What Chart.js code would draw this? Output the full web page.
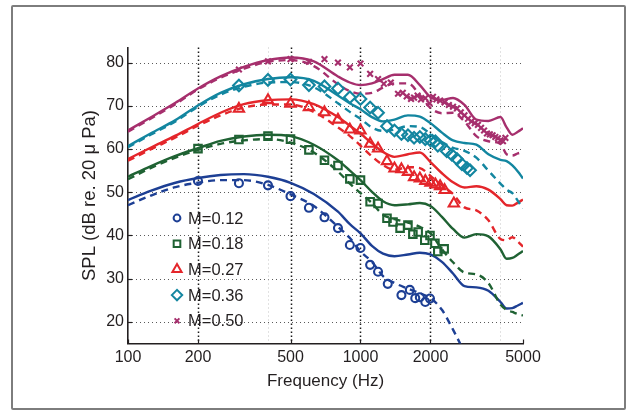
<!DOCTYPE html>
<html>
<head>
<meta charset="utf-8">
<script src="https://cdn.jsdelivr.net/npm/chart.js@4.4.1/dist/chart.umd.min.js"></script>
<style>
  html, body { margin: 0; padding: 0; background: #fff; }
  #wrap { position: relative; width: 630px; height: 415px; }
  #frame { position: absolute; left: 11px; top: 5px; width: 615px; height: 405px; border: 2px solid #7d7d7d; border-radius: 2px; box-sizing: border-box; }
  canvas { position: absolute; left: 0; top: 0; }
</style>
</head>
<body>
<div id="wrap">
  <div id="frame"></div>
  <canvas id="chart" width="630" height="415"></canvas>
</div>
<script>
// axis ticks
const xTicks = [100, 200, 500, 1000, 2000, 5000];
const xMinorGrid = [400, 4000];
const seriesNames = ["M=0.12", "M=0.18", "M=0.27", "M=0.36", "M=0.50"];

// frequencies the model curves are read at
const curveFreq = [100, 125, 160, 200, 250, 315, 400, 500, 630, 800, 900, 1000, 1120, 1250, 1400,
  1600, 1800, 2000, 2240, 2500, 2800, 3150, 3550, 4000, 4250, 4500, 4750, 5000];

// solid curves
const blueSolid = [48.2, 50.3, 52.2, 53.3, 54.0, 54.2, 53.6, 52.2, 49.6, 45.5, 42.6, 40.5, 37.6, 35.8, 35.2,
  35.6, 36.0, 35.6, 33.9, 31.2, 28.3, 28.0, 27.2, 24.6, 23.1, 23.2, 23.8, 24.4];
const greenSolid = [53.6, 56.0, 58.4, 60.2, 61.9, 62.9, 63.3, 63.0, 61.0, 57.4, 55.0, 52.8, 50.1, 47.9, 47.0,
  47.2, 47.5, 46.8, 44.3, 41.5, 39.5, 40.3, 39.8, 36.8, 34.6, 34.8, 35.6, 36.4];
const redSolid = [57.7, 60.3, 63.1, 65.8, 68.4, 70.4, 71.3, 71.5, 70.4, 67.4, 65.4, 63.6, 61.3, 59.3, 58.2,
  58.8, 59.2, 57.0, 54.4, 52.3, 51.1, 51.4, 50.6, 48.4, 47.0, 46.9, 47.6, 48.3];
const tealSolid = [60.7, 63.6, 66.7, 70.1, 73.0, 75.0, 76.2, 76.6, 75.8, 72.4, 70.6, 69.2, 67.4, 66.4, 66.8,
  67.8, 67.5, 66.0, 63.8, 62.0, 61.4, 61.0, 58.8, 57.5, 57.2, 56.2, 54.8, 53.2];
const magentaSolid = [64.3, 67.3, 70.7, 74.0, 76.8, 79.0, 80.6, 81.2, 80.3, 76.8, 75.4, 74.8, 75.2, 76.2, 77.2,
  77.2, 74.8, 72.0, 71.4, 71.8, 70.2, 66.8, 66.5, 67.4, 65.0, 63.3, 64.0, 64.8];

// dashed curves
const blueDashed = [47.0, 49.2, 51.2, 52.2, 52.8, 52.8, 51.7, 49.5, 46.8, 42.0, 39.4, 36.3, 33.9, 30.6, 29.0,
  27.7, 26.6, 25.5, 22.8, 18.2, 13.0];
const greenDashed = [53.0, 55.6, 58.0, 59.8, 61.2, 62.0, 62.3, 61.5, 59.2, 54.8, 52.0, 49.8, 47.5, 44.8, 43.8,
  43.0, 42.0, 40.5, 36.8, 33.8, 31.4, 31.0, 29.0, 24.0, 22.8, 22.3, 21.8, 21.5];
const redDashed = [57.3, 59.9, 62.7, 65.4, 67.8, 69.6, 70.3, 70.3, 68.6, 65.0, 63.0, 60.8, 58.3, 56.3, 55.2,
  55.8, 55.6, 53.8, 51.6, 49.6, 46.5, 45.8, 43.5, 39.2, 38.9, 39.6, 38.6, 37.4];
const tealDashed = [60.4, 63.3, 66.4, 69.8, 72.6, 74.4, 75.4, 75.5, 74.3, 70.6, 68.6, 67.0, 65.0, 64.2, 64.5,
  65.3, 65.1, 63.5, 61.6, 60.3, 59.6, 58.0, 55.0, 52.0, 50.6, 49.8, 48.0, 46.3];
const magentaDashed = [64.0, 67.0, 70.4, 73.8, 76.5, 78.6, 80.2, 80.6, 79.2, 75.0, 73.4, 72.8, 73.0, 74.2, 75.2,
  75.2, 72.5, 69.5, 68.3, 68.4, 66.4, 63.0, 61.8, 61.2, 58.8, 58.5, 59.0, 59.3];

// measured points
const blueMarkFreq = [200, 300, 400, 500, 600, 700, 800, 900, 1000, 1100, 1190, 1310, 1500, 1630, 1720, 1800, 1900, 1990];
const blueMarks = [52.6, 52.1, 51.6, 49.1, 46.4, 44.2, 41.7, 37.8, 37.1, 33.2, 31.6, 28.8, 26.2, 27.4, 25.5, 25.7, 24.6, 25.4];
const greenMarkFreq = [200, 300, 400, 500, 600, 700, 800, 900, 1000, 1100, 1190, 1300, 1380, 1480, 1600, 1680, 1770,
  1890, 1990, 2090, 2150, 2290];
const greenMarks = [60.1, 62.2, 63.0, 62.3, 59.8, 57.4, 56.2, 53.1, 52.8, 47.8, 47.4, 44.0, 43.1, 41.7, 42.4, 40.3, 40.8,
  38.9, 40.0, 38.2, 36.3, 36.9];
const redMarkFreq = [300, 400, 500, 600, 700, 800, 900, 1000, 1100, 1190, 1300, 1400, 1500, 1600, 1700, 1800, 1900,
  2000, 2100, 2200, 2300, 2520];
const redMarks = [69.3, 71.3, 70.5, 69.7, 68.5, 66.8, 64.5, 64.3, 61.2, 60.1, 57.2, 55.5, 55.3, 54.7, 53.5, 53.2, 52.6,
  52.2, 51.8, 51.4, 50.5, 47.4];
const tealMarkFreq = [300, 400, 500, 600, 700, 800, 900, 1000, 1100, 1190, 1300, 1400, 1500, 1600, 1700, 1800, 1900,
  2000, 2100, 2150, 2350, 2470, 2600, 2730, 2870, 2960];
const tealMarks = [74.7, 76.0, 76.1, 74.8, 74.5, 74.0, 72.0, 71.6, 69.6, 68.4, 65.3, 64.3, 63.5, 63.2, 62.6, 62.8, 62.3,
  62.0, 61.8, 60.8, 59.5, 58.7, 57.7, 56.5, 55.6, 55.1];
const magentaMarkFreq = [300, 400, 500, 600, 700, 800, 900, 1000, 1100, 1190, 1260, 1350, 1450, 1520, 1580, 1650, 1700,
  1760, 1820, 1900, 1980, 2050, 2120, 2200, 2300, 2400, 2500, 2600, 2700, 2800, 2900, 3000, 3100, 3200, 3300, 3400,
  3500, 3600, 3700, 3800, 3900, 4000, 4100, 4200];
const magentaMarks = [78.4, 80.3, 80.8, 80.2, 80.8, 80.0, 78.9, 79.8, 77.4, 76.2, 75.1, 75.4, 72.8, 73.0, 72.2, 71.6, 71.9,
  72.4, 71.5, 71.8, 70.6, 72.1, 71.5, 71.2, 70.8, 70.2, 69.8, 69.4, 68.5, 67.8, 67.0, 66.4, 66.0, 65.6, 64.9, 64.3,
  63.6, 63.4, 63.2, 62.8, 62.5, 62.0, 61.8, 62.6];

const colors = ["#1d3f94", "#1f6233", "#e4262b", "#1386a0", "#a62f6d"];
const markerStyles = ["circle", "rect", "triangle", "rectRot", "crossRot"];
const markerSizes = [4.0, 5.3, 5.9, 5.8, 4.0];
const textColor = "#231f20";
const FONT = "'Liberation Sans', Arial, Helvetica, sans-serif";

const solids = [blueSolid, greenSolid, redSolid, tealSolid, magentaSolid];
const dashes = [blueDashed, greenDashed, redDashed, tealDashed, magentaDashed];
const markFreqs = [blueMarkFreq, greenMarkFreq, redMarkFreq, tealMarkFreq, magentaMarkFreq];
const marks = [blueMarks, greenMarks, redMarks, tealMarks, magentaMarks];

const toPoints = (freqs, vals) => vals.map((v, i) => ({ x: freqs[i], y: v }));

const datasets = [];
seriesNames.forEach((name, i) => {
  datasets.push({
    label: name,
    data: toPoints(markFreqs[i], marks[i]),
    showLine: false,
    pointStyle: markerStyles[i],
    pointRadius: markerSizes[i],
    pointBorderWidth: 2.1,
    pointBorderColor: colors[i],
    pointBackgroundColor: "rgba(0,0,0,0)",
    order: 0,
  });
  datasets.push({
    label: name + " model",
    data: toPoints(curveFreq, solids[i]),
    borderColor: colors[i],
    borderWidth: 2.4,
    pointRadius: 0,
    cubicInterpolationMode: "monotone",
    order: 2,
  });
  datasets.push({
    label: name + " model 2",
    data: toPoints(curveFreq, dashes[i]),
    borderColor: colors[i],
    borderWidth: 2.4,
    borderDash: [7, 5],
    pointRadius: 0,
    cubicInterpolationMode: "monotone",
    order: 1,
  });
});

// dotted grid and small inward ticks, drawn from the scales
const gridPlugin = {
  id: "dottedGrid",
  beforeDatasetsDraw(chart) {
    const { ctx, chartArea: a, scales: { x, y } } = chart;
    ctx.save();
    ctx.lineWidth = 1;
    ctx.strokeStyle = "#5a5a5a";
    ctx.setLineDash([1, 3]);
    y.ticks.forEach((t) => {
      const py = Math.round(y.getPixelForValue(t.value)) + 0.5;
      ctx.beginPath(); ctx.moveTo(a.left, py); ctx.lineTo(a.right, py); ctx.stroke();
    });
    ctx.strokeStyle = "#c4c4c4";
    xMinorGrid.forEach((v) => {
      const px = Math.round(x.getPixelForValue(v)) + 0.5;
      ctx.beginPath(); ctx.moveTo(px, a.top); ctx.lineTo(px, a.bottom); ctx.stroke();
    });
    ctx.strokeStyle = "#1a1a1a";
    ctx.lineWidth = 1.5;
    ctx.setLineDash([1.5, 2.5]);
    xTicks.slice(1, -1).forEach((v) => {
      const px = Math.round(x.getPixelForValue(v)) + 0.5;
      ctx.beginPath(); ctx.moveTo(px, a.top); ctx.lineTo(px, a.bottom); ctx.stroke();
    });
    ctx.setLineDash([]);
    ctx.lineWidth = 1.2;
    ctx.strokeStyle = textColor;
    y.ticks.forEach((t) => {
      const py = Math.round(y.getPixelForValue(t.value)) + 0.5;
      ctx.beginPath(); ctx.moveTo(a.left, py); ctx.lineTo(a.left + 4, py); ctx.stroke();
    });
    xTicks.forEach((v) => {
      const px = Math.round(x.getPixelForValue(v)) + 0.5;
      ctx.beginPath(); ctx.moveTo(px, a.bottom); ctx.lineTo(px, a.bottom - 4); ctx.stroke();
    });
    ctx.restore();
  },
};

// legend inside the plot, lower left
const legendPlugin = {
  id: "innerLegend",
  afterDatasetsDraw(chart) {
    const { ctx, chartArea: a } = chart;
    ctx.save();
    ctx.font = "16.5px " + FONT;
    ctx.textBaseline = "middle";
    seriesNames.forEach((name, i) => {
      const cy = a.top + 170.5 + i * 25.7;
      const cx = a.left + 49;
      ctx.strokeStyle = colors[i];
      ctx.fillStyle = "rgba(0,0,0,0)";
      ctx.lineWidth = 2;
      Chart.helpers.drawPoint(ctx, { pointStyle: markerStyles[i], radius: markerSizes[i] - 0.6, borderWidth: 2, rotation: 0 }, cx, cy);
      ctx.fillStyle = textColor;
      ctx.fillText(name, a.left + 60, cy + 1);
    });
    ctx.restore();
  },
};

Chart.defaults.font.family = FONT;
Chart.defaults.color = textColor;

new Chart(document.getElementById("chart").getContext("2d"), {
  type: "line",
  data: { datasets },
  plugins: [gridPlugin, legendPlugin],
  options: {
    responsive: false,
    animation: false,
    layout: { padding: { left: 79.2, top: 47.5, right: 107, bottom: 23.1 } },
    plugins: { legend: { display: false }, tooltip: { enabled: false } },
    scales: {
      x: {
        type: "logarithmic",
        min: 100,
        max: 5000,
        afterBuildTicks: (s) => { s.ticks = xTicks.map((v) => ({ value: v })); },
        afterFit: (s) => { s.height = 48.4; },
        ticks: { autoSkip: false, maxRotation: 0, padding: 4, color: textColor, font: { size: 16 }, callback: (v) => String(v) },
        grid: { display: false, drawTicks: false },
        border: { display: true, color: textColor, width: 1.6 },
        title: { display: true, text: "Frequency (Hz)", padding: 0, color: textColor, font: { size: 17 } },
      },
      y: {
        type: "linear",
        min: 15,
        max: 83.5,
        afterFit: (s) => { s.width = 48.8; },
        ticks: { stepSize: 10, includeBounds: false, padding: 4, color: textColor, font: { size: 16 } },
        grid: { display: false, drawTicks: false },
        border: { display: true, color: textColor, width: 1.6 },
        title: { display: true, text: "SPL (dB re. 20 \u03bc Pa)", padding: 0, color: textColor, font: { size: 18.5 } },
      },
    },
  },
});
</script>
</body>
</html>
